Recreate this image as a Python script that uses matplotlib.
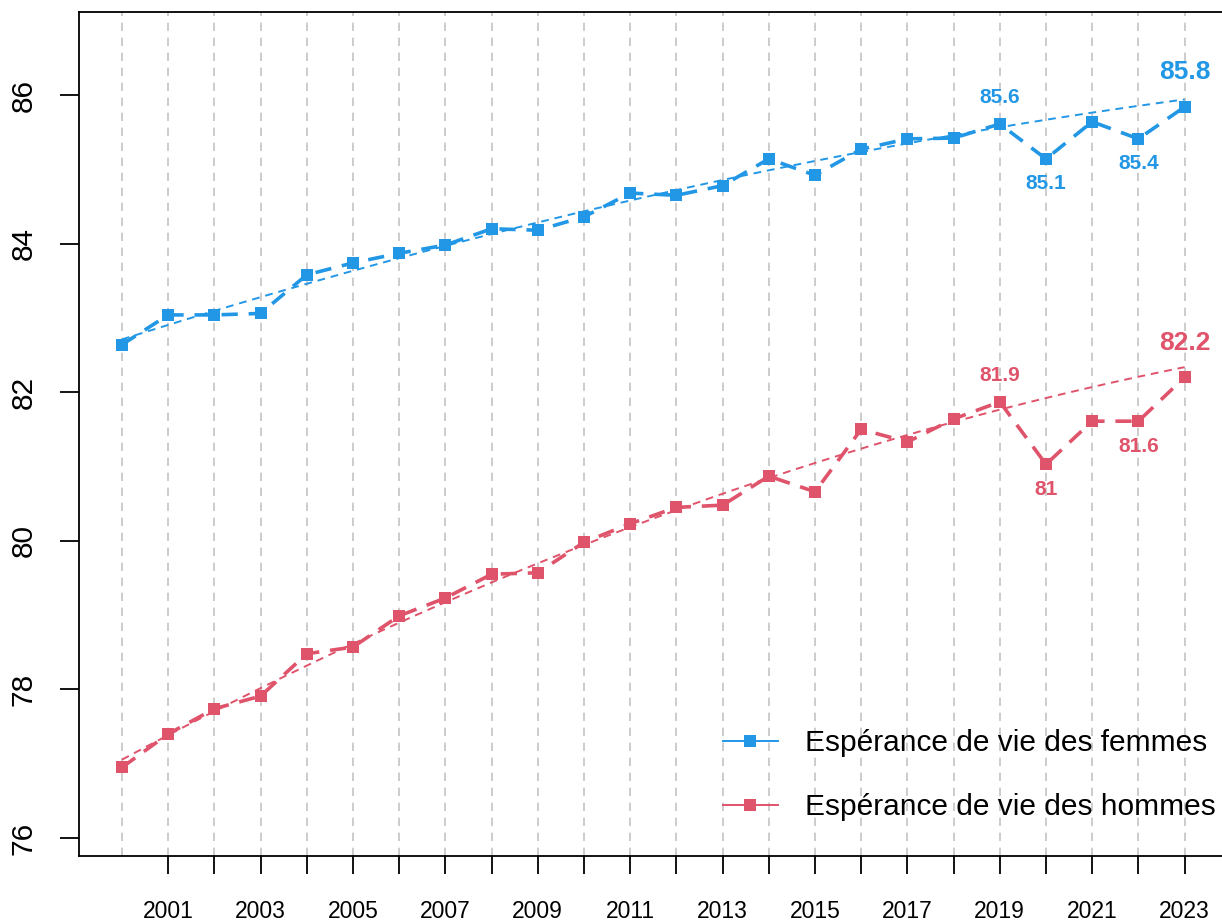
import numpy as np
import matplotlib
matplotlib.use("Agg")
import matplotlib.pyplot as plt
from matplotlib.lines import Line2D

plt.rcParams['font.family'] = ['Liberation Sans', 'DejaVu Sans']

years = list(range(2000, 2024))
femmes = [82.64, 83.04, 83.04, 83.06, 83.58, 83.74, 83.87, 83.98, 84.20, 84.18,
          84.36, 84.68, 84.65, 84.78, 85.14, 84.92, 85.27, 85.41, 85.42, 85.61,
          85.14, 85.64, 85.41, 85.84]
hommes = [76.95, 77.40, 77.74, 77.91, 78.48, 78.57, 78.99, 79.23, 79.55, 79.57,
          79.98, 80.23, 80.45, 80.48, 80.87, 80.66, 81.50, 81.33, 81.64, 81.87,
          81.03, 81.61, 81.61, 82.20]
labels_f = {2019: "85.6", 2020: "85.1", 2022: "85.4", 2023: "85.8"}
labels_h = {2019: "81.9", 2020: "81", 2022: "81.6", 2023: "82.2"}
legend_labels = ["Espérance de vie des femmes", "Espérance de vie des hommes"]
xtick_years = list(range(2001, 2024))
xlabel_years = list(range(2001, 2024, 2))
yticks = [76, 78, 80, 82, 84, 86]

BLUE = "#2297E6"
RED = "#DF536B"

W, H = 1222, 922
fig = plt.figure(figsize=(W / 100, H / 100), dpi=100)
left_px, right_px, top_px, bottom_px = 79, 1240, 12, 856
ax = fig.add_axes([left_px / W, 1 - bottom_px / H, (right_px - left_px) / W, (bottom_px - top_px) / H])

x = np.array(years, dtype=float)
# fitted trend lines (pre-2020 quadratic trend, extrapolated)
pre = x <= 2019
for series, col in [(femmes, BLUE), (hommes, RED)]:
    yv = np.array(series)
    coef = np.polyfit(x[pre] - 2000, yv[pre], 2)
    xf = np.linspace(2000, 2023, 200)
    ax.plot(xf, np.polyval(coef, xf - 2000), color=col, lw=1.4, dashes=(4, 3), zorder=2)

for series, col in [(femmes, BLUE), (hommes, RED)]:
    ax.plot(years, series, color=col, lw=2.6, dashes=(4.5, 3), marker='s', markersize=9.3,
            markeredgewidth=0, zorder=3)

for yr in years:
    ax.axvline(yr, color="#C4C4C4", lw=1.2, dashes=(5, 4), zorder=1)

def annot(series, labels, col):
    for yr, txt in labels.items():
        v = series[years.index(yr)]
        if yr == 2023:
            off, fs = 25, 19
        elif yr == 2019:
            off, fs = 19, 15
        else:
            off, fs = -18, 15
        ax.annotate(txt, (yr, v), xytext=(0, off), textcoords='offset points',
                    ha='center', va='center', color=col, fontsize=fs, fontweight='bold')

annot(femmes, labels_f, BLUE)
annot(hommes, labels_h, RED)

ax.set_xlim(1999.07, 2000 + (right_px - 122) / 46.2)
ax.set_ylim(75.758, 87.117)

ax.set_xticks(xtick_years)
ax.set_xticklabels([str(y) if y in xlabel_years else "" for y in xtick_years], fontsize=16.5)
ax.set_yticks(yticks)
ax.set_yticklabels([str(v) for v in yticks], fontsize=21.5, rotation=90, va='center')
ax.tick_params(axis='x', length=13, width=1.3, pad=19)
ax.tick_params(axis='y', length=14, width=1.3, pad=16)
for s in ax.spines.values():
    s.set_linewidth(1.3)

handles = [Line2D([], [], color=BLUE, lw=1.4, marker='s', markersize=9.3, markeredgewidth=0),
           Line2D([], [], color=RED, lw=1.4, marker='s', markersize=9.3, markeredgewidth=0)]
fig.legend(handles, legend_labels, loc='upper left', bbox_to_anchor=(723 / W, 1 - 729 / H),
           frameon=False, fontsize=21.5, handlelength=1.84, handletextpad=0.9,
           labelspacing=1.22, borderpad=0, borderaxespad=0)

fig.savefig("out.png", dpi=100)
